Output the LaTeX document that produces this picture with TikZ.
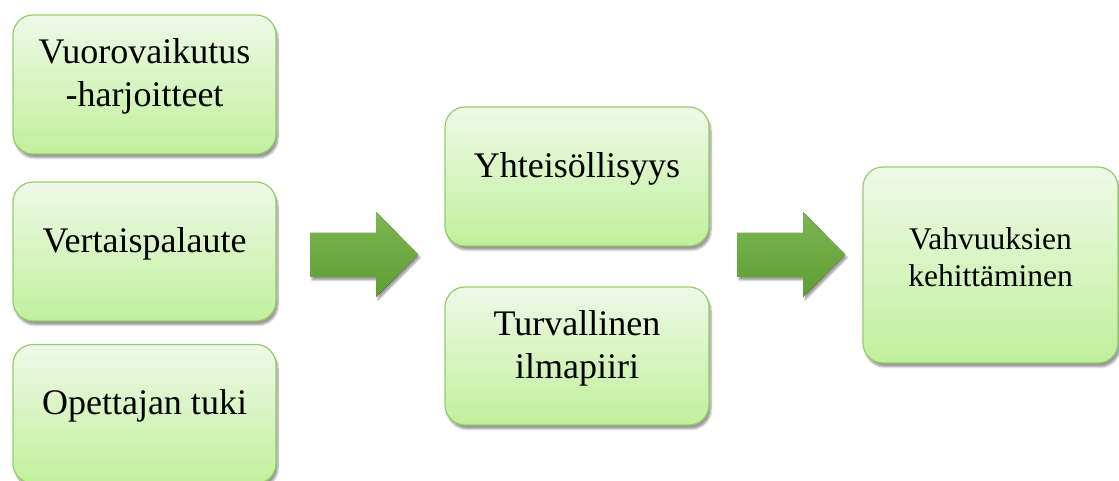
\documentclass[tikz,border=0pt]{standalone}
\usepackage{fontspec}
\setmainfont{Liberation Serif}
\usepackage{xcolor}
\usetikzlibrary{calc}
\usetikzlibrary{shadows.blur}

\definecolor{BoxTop}{RGB}{238,249,231}
\definecolor{BoxBottom}{RGB}{192,240,155}
\definecolor{BoxLine}{RGB}{150,205,105}
\definecolor{ArrowTop}{RGB}{124,182,82}
\definecolor{ArrowBottom}{RGB}{94,158,50}

\tikzset{
  stepbox/.style={shape=rectangle, rounded corners=20pt, inner sep=0pt, draw=BoxLine, line width=1.2pt,
    top color=BoxTop, bottom color=BoxBottom,
    blur shadow={shadow xshift=2pt, shadow yshift=-4pt, shadow blur steps=6, shadow opacity=40}},
  boxtext/.style={align=center, inner sep=0pt, font=\fontsize{36}{43}\selectfont, yshift=8pt},
  bigarrow/.style={top color=ArrowTop, bottom color=ArrowBottom,
    blur shadow={shadow xshift=2pt, shadow yshift=-3pt, shadow blur steps=5, shadow opacity=40}}
}

\begin{document}
\begin{tikzpicture}[x=1pt,y=1pt]
\useasboundingbox (0,0) rectangle (1119,481);
% left column
\node[stepbox, minimum width=263pt, minimum height=139pt] (vuoro) at (144.5,396.5) {};
\node[boxtext] (vuoroText) at (vuoro.center) {Vuorovaikutus\\-harjoitteet};
\node[stepbox, minimum width=263pt, minimum height=139pt] (vertais) at (144.5,229.5) {};
\node[boxtext] (vertaisText) at (vertais.center) {Vertaispalaute};
\node[stepbox, minimum width=263pt, minimum height=139pt] (tuki) at (144.5,67) {};
\node[boxtext] (tukiText) at (tuki.center) {Opettajan tuki};
% middle column
\node[stepbox, minimum width=264pt, minimum height=139pt] (yhteis) at (577,304.5) {};
\node[boxtext] (yhteisText) at (yhteis.center) {Yhteisöllisyys};
\node[stepbox, minimum width=264pt, minimum height=138pt] (turva) at (577,125) {};
\node[boxtext] (turvaText) at (turva.center) {Turvallinen\\ilmapiiri};
% right box
\node[stepbox, minimum width=255pt, minimum height=196pt] (vahvuus) at (990.5,216) {};
\node[boxtext, font=\fontsize{31.5}{37}\selectfont, yshift=-0.5pt] (vahvuusText) at (vahvuus.center) {Vahvuuksien\\kehittäminen};
% block arrows
\foreach \ax in {310,737}
  \fill[bigarrow] (\ax,204) -- ++(66,0) -- ++(0,-20) -- ++(42,42.5) -- ++(-42,42.5) -- ++(0,-21) -- ++(-66,0) -- cycle;
\end{tikzpicture}
\end{document}
